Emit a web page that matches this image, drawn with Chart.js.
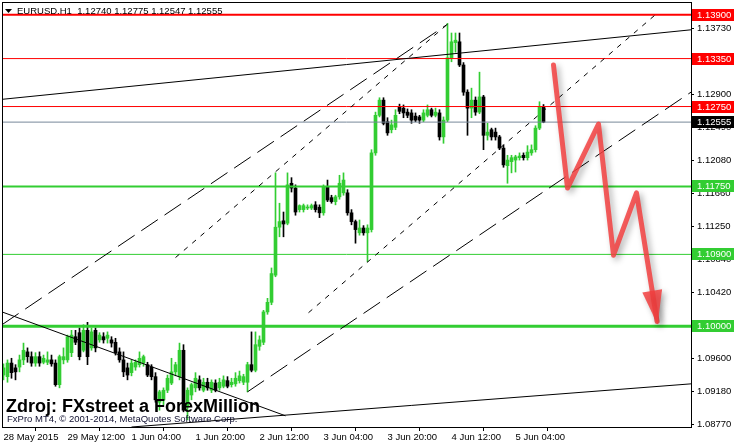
<!DOCTYPE html>
<html>
<head>
<meta charset="utf-8">
<script src="https://cdn.jsdelivr.net/npm/chart.js@4.4.1/dist/chart.umd.min.js"></script>
<style>
  html, body { margin: 0; padding: 0; background: #fff; }
  #wrap { width: 734px; height: 445px; }
</style>
</head>
<body>
<div id="wrap"><canvas id="chart" width="734" height="445"></canvas></div>
<script>
// EURUSD H1, 28 May - 5 Jun 2015
const symbol = "EURUSD.H1";
const timeLabels = ["28 May 2015", "29 May 12:00", "1 Jun 04:00", "1 Jun 20:00", "2 Jun 12:00",
  "3 Jun 04:00", "3 Jun 20:00", "4 Jun 12:00", "5 Jun 04:00"];
const timeLabelBars = [0, 16, 32, 48, 64, 80, 96, 112, 128];
const priceTicks = [1.08770, 1.09180, 1.09600, 1.10010, 1.10420, 1.10840, 1.11250,
  1.11660, 1.12080, 1.12490, 1.12900, 1.13320, 1.13730];

const open = [
  1.0939, 1.0937, 1.0954, 1.0948, 1.0949, 1.0958, 1.0968, 1.0962, 1.0954, 1.0962,
  1.0955, 1.0955, 1.0958, 1.0954, 1.0927, 1.0958, 1.0958, 1.0967, 1.0987, 1.0992,
  1.0970, 1.0995, 1.0973, 1.0995, 1.0983, 1.0987, 1.0985, 1.0983, 1.0980, 1.0968,
  1.0958, 1.0948, 1.0942, 1.0949, 1.0952, 1.0954, 1.0952, 1.0949, 1.0937, 1.0905,
  1.0908, 1.0920, 1.0929, 1.0943, 1.0937, 1.0970, 1.0899, 1.0914, 1.0923, 1.0933,
  1.0920, 1.0930, 1.0920, 1.0929, 1.0923, 1.0925, 1.0932, 1.0927, 1.0928, 1.0932,
  1.0930, 1.0930, 1.0952, 1.0945, 1.0975, 1.0980, 1.1018, 1.1030, 1.1064, 1.1124,
  1.1132, 1.1129, 1.1179, 1.1173, 1.1146, 1.1146, 1.1148, 1.1148, 1.1152, 1.1149,
  1.1142, 1.1174, 1.1161, 1.1156, 1.1162, 1.1167, 1.1167, 1.1142, 1.1131, 1.1117,
  1.1123, 1.1117, 1.1121, 1.1217, 1.1264, 1.1283, 1.1256, 1.1246, 1.1249, 1.1274,
  1.1273, 1.1268, 1.1267, 1.1263, 1.1262, 1.1258, 1.1264, 1.1271, 1.1264, 1.1267,
  1.1237, 1.1258, 1.1336, 1.1355, 1.1356, 1.1327, 1.1293, 1.1273, 1.1283, 1.1268,
  1.1287, 1.1239, 1.1246, 1.1243, 1.1237, 1.1223, 1.1201, 1.1206, 1.1208, 1.1211,
  1.1214, 1.1211, 1.1217, 1.1221, 1.1248, 1.12740
];
const high = [
  1.0953, 1.0958, 1.0960, 1.0952, 1.0964, 1.0979, 1.0973, 1.0968, 1.0967, 1.0968,
  1.0964, 1.0968, 1.0964, 1.0958, 1.0964, 1.0973, 1.0989, 1.0995, 1.0995, 1.0998,
  1.1002, 1.1005, 1.0998, 1.0998, 1.0992, 1.0992, 1.0993, 1.0987, 1.0985, 1.0973,
  1.0968, 1.0954, 1.0958, 1.0958, 1.0968, 1.0964, 1.0955, 1.0952, 1.0942, 1.0920,
  1.0923, 1.0939, 1.0960, 1.0955, 1.0979, 1.0977, 1.0923, 1.0929, 1.0942, 1.0938,
  1.0935, 1.0935, 1.0933, 1.0933, 1.0935, 1.0938, 1.0937, 1.0935, 1.0942, 1.0944,
  1.0940, 1.0955, 1.0993, 1.0993, 1.0988, 1.1020, 1.1035, 1.1073, 1.1192, 1.1154,
  1.1143, 1.1192, 1.1186, 1.1177, 1.1152, 1.1153, 1.1152, 1.1153, 1.1156, 1.1152,
  1.1177, 1.1183, 1.1164, 1.1164, 1.1189, 1.1192, 1.1171, 1.1146, 1.1133, 1.1133,
  1.1126, 1.1127, 1.1221, 1.1268, 1.1286, 1.1286, 1.1261, 1.1258, 1.1271, 1.1278,
  1.1277, 1.1272, 1.1271, 1.1267, 1.1264, 1.1271, 1.1277, 1.1273, 1.1273, 1.1271,
  1.1262, 1.1379, 1.1367, 1.1367, 1.1367, 1.1330, 1.1296, 1.1298, 1.1287, 1.1318,
  1.1289, 1.1254, 1.1248, 1.1248, 1.1239, 1.1227, 1.1214, 1.1214, 1.1214, 1.1217,
  1.1217, 1.1226, 1.1227, 1.1251, 1.1281, 1.12775
];
const low = [
  1.0933, 1.0930, 1.0935, 1.0933, 1.0943, 1.0952, 1.0955, 1.0950, 1.0950, 1.0950,
  1.0953, 1.0952, 1.0950, 1.0925, 1.0923, 1.0953, 1.0955, 1.0962, 1.0977, 1.0958,
  1.0968, 1.0952, 1.0970, 1.0968, 1.0980, 1.0979, 1.0979, 1.0974, 1.0964, 1.0955,
  1.0937, 1.0933, 1.0938, 1.0945, 1.0949, 1.0950, 1.0937, 1.0933, 1.0905, 1.0895,
  1.0902, 1.0917, 1.0927, 1.0938, 1.0933, 1.0893, 1.0883, 1.0908, 1.0918, 1.0920,
  1.0918, 1.0920, 1.0917, 1.0918, 1.0920, 1.0923, 1.0923, 1.0924, 1.0925, 1.0929,
  1.0927, 1.0918, 1.0943, 1.0943, 1.0970, 1.0977, 1.1015, 1.1027, 1.1062, 1.1112,
  1.1112, 1.1127, 1.1168, 1.1139, 1.1143, 1.1143, 1.1146, 1.1146, 1.1143, 1.1136,
  1.1139, 1.1156, 1.1154, 1.1152, 1.1159, 1.1164, 1.1139, 1.1127, 1.1104, 1.1114,
  1.1114, 1.1081, 1.1118, 1.1214, 1.1262, 1.1252, 1.1239, 1.1242, 1.1246, 1.1266,
  1.1261, 1.1261, 1.1254, 1.1256, 1.1254, 1.1256, 1.1262, 1.1262, 1.1262, 1.1233,
  1.1229, 1.1256, 1.1331, 1.1343, 1.1325, 1.1289, 1.1239, 1.1261, 1.1264, 1.1266,
  1.1221, 1.1233, 1.1233, 1.1233, 1.1221, 1.1199, 1.1179, 1.1192, 1.1193, 1.1208,
  1.1208, 1.1208, 1.1214, 1.1218, 1.1246, 1.12547
];
const close = [
  1.0948, 1.0954, 1.0942, 1.0943, 1.0958, 1.0970, 1.0962, 1.0954, 1.0962, 1.0954,
  1.0960, 1.0958, 1.0953, 1.0927, 1.0962, 1.0962, 1.0987, 1.0989, 1.0980, 1.0962,
  1.0995, 1.0962, 1.0993, 1.0973, 1.0989, 1.0983, 1.0989, 1.0979, 1.0967, 1.0958,
  1.0943, 1.0939, 1.0954, 1.0955, 1.0960, 1.0962, 1.0939, 1.0937, 1.0908, 1.0918,
  1.0920, 1.0935, 1.0943, 1.0952, 1.0970, 1.0895, 1.0920, 1.0927, 1.0935, 1.0923,
  1.0930, 1.0923, 1.0930, 1.0920, 1.0930, 1.0933, 1.0925, 1.0930, 1.0935, 1.0938,
  1.0937, 1.0952, 1.0945, 1.0977, 1.0983, 1.1018, 1.1030, 1.1066, 1.1124, 1.1131,
  1.1128, 1.1177, 1.1173, 1.1143, 1.1151, 1.1151, 1.1149, 1.1151, 1.1146, 1.1142,
  1.1174, 1.1158, 1.1156, 1.1162, 1.1179, 1.1183, 1.1142, 1.1131, 1.1121, 1.1123,
  1.1117, 1.1123, 1.1217, 1.1264, 1.1283, 1.1254, 1.1242, 1.1252, 1.1264, 1.1269,
  1.1267, 1.1264, 1.1258, 1.1258, 1.1258, 1.1267, 1.1271, 1.1264, 1.1268, 1.1237,
  1.1258, 1.1336, 1.1356, 1.1358, 1.1327, 1.1293, 1.1273, 1.1283, 1.1268, 1.1287,
  1.1239, 1.1243, 1.1237, 1.1237, 1.1223, 1.1202, 1.1208, 1.1211, 1.1212, 1.1213,
  1.1211, 1.1218, 1.1221, 1.1248, 1.1274, 1.12555
];

// horizontal levels
const resistance = [1.13900, 1.13350, 1.12750];
const support = [1.11750, 1.10900, 1.10000];
const bid = close[close.length - 1];

// trend lines as [bar, price] pairs
const solidLines = [
  [[-0.375, 1.1284], [171.875, 1.1371]],
  [[-0.375, 1.1018], [70.5, 1.0888]],
  [[32, 1.0874], [171.875, 1.0928]]
];
const longDashLines = [
  [[-0.375, 1.1002], [111, 1.1378]],
  [[61, 1.0918], [171.875, 1.1293]]
];
const shortDashLines = [
  [[43, 1.1086], [111, 1.1378]],
  [[76.25, 1.1017], [163, 1.1390]]
];
// hand drawn forecast zigzag
const forecast = [[137.5, 1.1327], [141, 1.1173], [148.75, 1.1253], [152.5, 1.1089], [158.25, 1.1167], [163.4, 1.1006]];

const xMin = -0.375, xMax = 171.875;
const GREEN = "#32CD32", RED = "#FF0000";
const FONT = "'Liberation Sans', Arial, sans-serif";

const bars = open.map((o, i) => i);
const candleColor = bars.map(i => close[i] > open[i] ? GREEN : "#000000");

const pts = arr => arr.map(p => ({ x: p[0], y: p[1] }));
const flat = v => [{ x: xMin, y: v }, { x: xMax, y: v }];

const levelSets = [
  { v: resistance[0], c: RED, w: 2 }, { v: resistance[1], c: RED, w: 1 }, { v: resistance[2], c: RED, w: 1 },
  { v: support[0], c: GREEN, w: 2 }, { v: support[1], c: GREEN, w: 1 }, { v: support[2], c: GREEN, w: 3 },
  { v: bid, c: "#778899", w: 1 }
].map(l => ({
  type: "line", label: "level", data: flat(l.v), borderColor: l.c, borderWidth: l.w,
  pointRadius: 0, fill: false, order: 2
}));

const trendSets = []
  .concat(solidLines.map(l => ({ d: l, dash: [] })))
  .concat(longDashLines.map(l => ({ d: l, dash: [20, 8] })))
  .concat(shortDashLines.map(l => ({ d: l, dash: [5, 6] })))
  .map(t => ({
    type: "line", label: "trend", data: pts(t.d), borderColor: "#000", borderWidth: 1,
    borderDash: t.dash, pointRadius: 0, fill: false, order: 1
  }));

const arrowColor = "rgba(242,64,64,0.85)";

const decor = {
  id: "decor",
  beforeDatasetDraw(chart, args) {
    if (chart.data.datasets[args.index].label !== "forecast") return;
    const c = chart.ctx;
    c.save();
    c.shadowColor = "rgba(0,0,0,0.35)";
    c.shadowBlur = 6;
    c.shadowOffsetX = 3;
    c.shadowOffsetY = 3;
  },
  afterDatasetDraw(chart, args) {
    if (chart.data.datasets[args.index].label !== "forecast") return;
    const c = chart.ctx;
    const p = args.meta.data;
    const a = p[p.length - 2], b = p[p.length - 1];
    const ang = Math.atan2(b.y - a.y, b.x - a.x);
    const tipX = b.x + Math.cos(ang) * 3, tipY = b.y + Math.sin(ang) * 3;
    const len = 34, half = 10;
    const bx = tipX - Math.cos(ang) * len, by = tipY - Math.sin(ang) * len;
    c.fillStyle = arrowColor;
    c.beginPath();
    c.moveTo(tipX, tipY);
    c.lineTo(bx - Math.sin(ang) * half, by + Math.cos(ang) * half);
    c.lineTo(bx + Math.sin(ang) * half, by - Math.cos(ang) * half);
    c.closePath();
    c.fill();
    c.restore();
  },
  afterDraw(chart) {
    const c = chart.ctx;
    const { left, top, right, bottom } = chart.chartArea;
    const y = chart.scales.y;
    c.save();
    c.strokeStyle = "#000";
    c.lineWidth = 1;
    c.strokeRect(left + 0.5, top + 0.5, right - left, bottom - top);

    // header
    c.fillStyle = "#000";
    c.beginPath();
    c.moveTo(5, 9); c.lineTo(12, 9); c.lineTo(8.5, 13); c.closePath(); c.fill();
    c.font = "9.5px " + FONT;
    c.textBaseline = "alphabetic";
    const n = close.length - 1;
    c.fillText(symbol + "  " + [open[n], high[n], low[n], close[n]].map(v => v.toFixed(5)).join(" "), 17, 14);

    // price tags
    const tags = resistance.map(v => ({ v, c: RED }))
      .concat(support.map(v => ({ v, c: GREEN })))
      .concat([{ v: bid, c: "#000" }]);
    c.textBaseline = "middle";
    tags.forEach(t => {
      const py = Math.round(y.getPixelForValue(t.v));
      c.fillStyle = t.c;
      c.fillRect(right + 1, py - 6, chart.width - right - 1, 12);
      c.fillStyle = "#fff";
      c.fillText(t.v.toFixed(5), right + 6, py + 0.5);
    });

    // captions
    c.fillStyle = "#000";
    c.textBaseline = "alphabetic";
    c.font = "bold 18px " + FONT;
    c.fillText("Zdroj: FXstreet a ForexMillion", 6, 412);
    c.font = "9.5px " + FONT;
    c.fillStyle = "#101030";
    c.fillText("FxPro MT4, \u00A9 2001-2014, MetaQuotes Software Corp.", 7, 422);
    c.restore();
  }
};

Chart.defaults.font.family = FONT;
Chart.defaults.font.size = 9.5;
Chart.defaults.color = "#000";

new Chart(document.getElementById("chart"), {
  type: "bar",
  data: {
    datasets: [
      {
        type: "line", label: "forecast", data: pts(forecast), borderColor: arrowColor,
        borderWidth: 5, borderCapStyle: "round", borderJoinStyle: "round",
        pointRadius: 0, fill: false, tension: 0, order: 0
      },
      ...trendSets,
      ...levelSets,
      {
        label: "body", data: bars.map(i => ({ x: i, y: [open[i], close[i]] })),
        backgroundColor: candleColor, barThickness: 3, minBarLength: 1, grouped: false, order: 3
      },
      {
        label: "wick", data: bars.map(i => ({ x: i, y: [low[i], high[i]] })),
        backgroundColor: candleColor, barThickness: 1, minBarLength: 1, grouped: false, order: 4
      }
    ]
  },
  options: {
    responsive: false,
    animation: false,
    devicePixelRatio: 1,
    layout: { padding: { left: 2, top: 2, right: 0, bottom: 0 } },
    plugins: { legend: { display: false }, tooltip: { enabled: false } },
    scales: {
      x: {
        type: "linear", min: xMin, max: xMax, offset: false,
        grid: { drawOnChartArea: false, drawTicks: true, tickLength: 4, color: "#000" },
        border: { display: false },
        ticks: {
          autoSkip: false, maxRotation: 0, align: "start", padding: 1,
          callback: v => timeLabels[timeLabelBars.indexOf(v)] || ""
        },
        afterBuildTicks: s => { s.ticks = timeLabelBars.map(v => ({ value: v })); },
        afterFit: s => { s.height = 18; s.paddingLeft = 0; s.paddingRight = 0; }
      },
      y: {
        position: "right", min: 1.08740, max: 1.14058,
        grid: { drawOnChartArea: false, drawTicks: true, tickLength: 3, color: "#000" },
        border: { display: false },
        ticks: { padding: 3, callback: v => Number(v).toFixed(5) },
        afterBuildTicks: s => { s.ticks = priceTicks.map(v => ({ value: v })); },
        afterFit: s => { s.width = 43; s.paddingTop = 0; s.paddingBottom = 0; }
      }
    }
  },
  plugins: [decor]
});
</script>
</body>
</html>
